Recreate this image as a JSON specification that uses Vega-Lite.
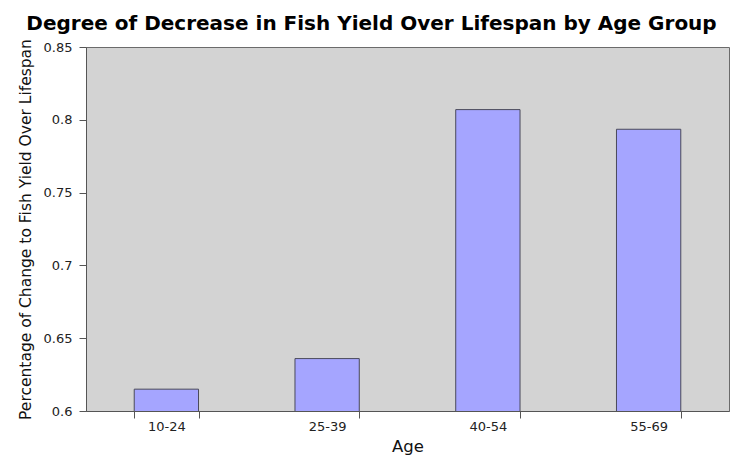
{
  "$schema": "https://vega.github.io/schema/vega-lite/v6.json",
  "autosize": "none",
  "padding": {"left": 86, "top": 47, "right": 5, "bottom": 52},
  "width": 643,
  "height": 364,
  "background": "white",
  "title": {
    "text": "Degree of Decrease in Fish Yield Over Lifespan by Age Group",
    "font": "DejaVu Sans",
    "fontSize": 20,
    "fontWeight": "bold",
    "color": "#000000",
    "anchor": "middle",
    "dx": -36,
    "offset": 5
  },
  "config": {
    "view": {"fill": "#d3d3d3", "stroke": "#6b6b6b", "strokeWidth": 1},
    "axis": {
      "labelFont": "DejaVu Sans",
      "titleFont": "DejaVu Sans",
      "labelColor": "#222222",
      "titleColor": "#111111",
      "domainColor": "#555555",
      "tickColor": "#555555",
      "titleFontWeight": "normal",
      "grid": false
    }
  },
  "data": {
    "values": [
      {"age": "10-24", "value": 0.615},
      {"age": "25-39", "value": 0.636},
      {"age": "40-54", "value": 0.807},
      {"age": "55-69", "value": 0.7935}
    ]
  },
  "mark": {"type": "bar", "fill": "#a5a5ff", "stroke": "#4a4a5a", "strokeWidth": 1, "clip": true},
  "encoding": {
    "x": {
      "field": "age",
      "type": "nominal",
      "sort": null,
      "scale": {"paddingInner": 0.6, "paddingOuter": 0.3},
      "axis": {
        "title": "Age",
        "labelAngle": 0,
        "labelFontSize": 13,
        "titleFontSize": 16.5,
        "tickBand": "extent",
        "tickSize": 7,
        "labelPadding": 2,
        "titlePadding": 5
      }
    },
    "y": {
      "field": "value",
      "type": "quantitative",
      "scale": {"domain": [0.6, 0.85], "zero": false, "nice": false},
      "axis": {
        "title": "Percentage of Change to Fish Yield Over Lifespan",
        "values": [0.6, 0.65, 0.7, 0.75, 0.8, 0.85],
        "format": "~g",
        "labelFontSize": 13,
        "titleFontSize": 15.5,
        "tickSize": 7,
        "labelPadding": 7,
        "titlePadding": 10
      }
    }
  }
}
